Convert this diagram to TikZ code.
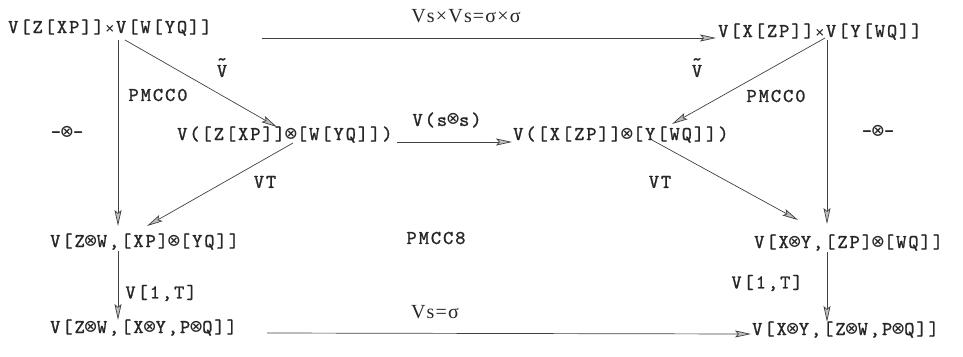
\documentclass[tikz,border=0pt]{standalone}
\usepackage{fontspec}
\usetikzlibrary{arrows.meta,calc}
\newfontfamily\mono{lmmono10-regular.otf}[LetterSpace=10,FakeBold=1.2]
\newfontfamily\dvm{DejaVu Sans Mono}
\newfontfamily\lserif{Liberation Serif}[LetterSpace=6]
\newcommand\ox{\makebox[12bp]{\dvm\fontsize{21bp}{21bp}\selectfont ⊗}}
\newcommand\tx{\makebox[12.3bp]{\dvm\fontsize{15bp}{15bp}\selectfont ×}}
\newcommand\tV{\makebox[0pt][l]{\raisebox{0.6em}{\textasciitilde}}V}
\begin{document}
\begin{tikzpicture}[x=1bp,y=-1bp,
  every node/.style={inner sep=0pt, text=black!85},
  obj/.style={font=\mono\fontsize{19.5bp}{22bp}\selectfont, anchor=base west},
  lab/.style={font=\mono\fontsize{19.5bp}{22bp}\selectfont, anchor=center},
  slab/.style={font=\lserif\fontsize{20bp}{22bp}\selectfont, anchor=center},
  arr/.style={draw=black!75, line width=0.7bp, -{Stealth[length=16bp,width=7bp,inset=3bp,fill=gray!50]}}]
\useasboundingbox (0,0) rectangle (963,356);
% objects
\node[obj] (A) at (8,33) {V[Z[XP]]\tx V[W[YQ]]};
\node[obj] (B) at (718,37) {V[X[ZP]]\tx V[Y[WQ]]};
\node[obj] (D) at (177,140) {V([Z[XP]]\ox[W[YQ]])};
\node[obj] (E) at (513,140) {V([X[ZP]]\ox[Y[WQ]])};
\node[obj] (C) at (50,247) {V[Z\ox W,[XP]\ox[YQ]]};
\node[obj] (F) at (754,248) {V[X\ox Y,[ZP]\ox[WQ]]};
\node[obj] (G) at (50,333) {V[Z\ox W,[X\ox Y,P\ox Q]]};
\node[obj] (H) at (752,335) {V[X\ox Y,[Z\ox W,P\ox Q]]};
% labels
\node[lab,font=\mono\fontsize{19.5bp}{22bp}\selectfont, anchor=base] (l2) at (222,77) {\tV};
\node[slab] (l1) at (466,16) {Vs×Vs=σ×σ};
\node[lab] (l3) at (158,95) {PMCC0};
\node[lab] (l4) at (67,132) {-\ox-};
\node[lab] (l5) at (447,120) {V(s\ox s)};
\node[lab] (l6) at (265,182) {VT};
\node[lab, anchor=base] (l7) at (697,77) {\tV};
\node[lab] (l8) at (776,96) {PMCC0};
\node[lab] (l9) at (878,131) {-\ox-};
\node[lab] (l10) at (660,182) {VT};
\node[lab] (l11) at (436,238) {PMCC8};
\node[lab] (l12) at (161,293) {V[1,T]};
\node[lab] (l13) at (767,283) {V[1,T]};
\node[slab] (l14) at (435,312) {Vs=σ};
% arrows
\draw[arr] ($(A.base west)+(254,5)$) -- ($(B.base west)+(-2,1)$);
\draw[arr] ($(A.base west)+(110,7)$) -- ($(C.base west)+(68,-21)$);
\draw[arr] ($(A.base west)+(117,7)$) -- ($(D.base west)+(100,-13)$);
\draw[arr] ($(D.base west)+(116,3)$) -- ($(C.base west)+(97,-21)$);
\draw[arr] ($(D.base west)+(220,2)$) -- ($(E.base west)+(-1,2)$);
\draw[arr] ($(B.base west)+(107,1)$) -- ($(E.base west)+(159,-16)$);
\draw[arr] ($(B.base west)+(109,3)$) -- ($(F.base west)+(73,-24)$);
\draw[arr] ($(E.base west)+(139,0)$) -- ($(F.base west)+(44,-28)$);
\draw[arr] ($(C.base west)+(68,4)$) -- ($(G.base west)+(68,-13)$);
\draw[arr] ($(F.base west)+(73,4)$) -- ($(H.base west)+(75,-13)$);
\draw[arr] ($(G.base west)+(217,0)$) -- ($(H.base west)+(-1,-1)$);
\end{tikzpicture}
\end{document}
